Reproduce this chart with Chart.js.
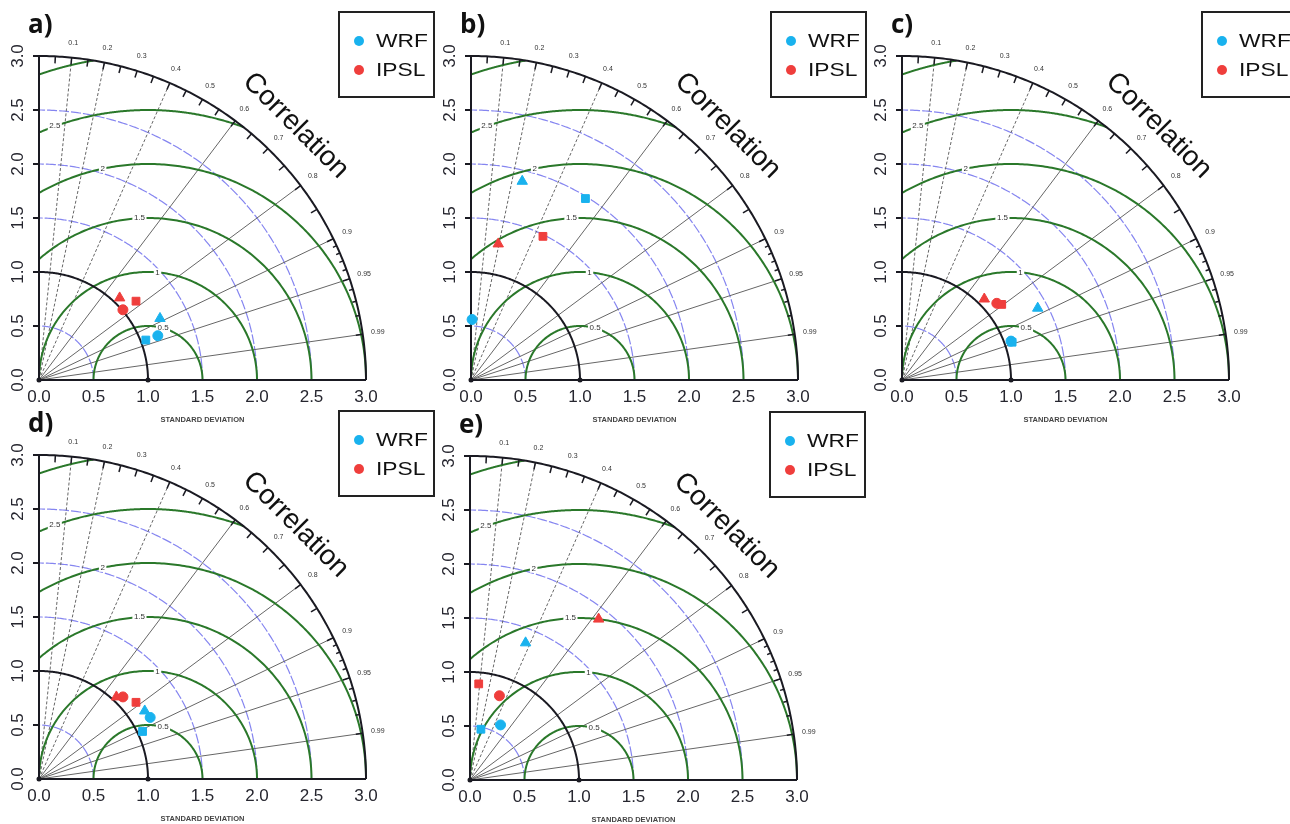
<!DOCTYPE html>
<html>
<head>
<meta charset="utf-8">
<title>Taylor diagrams WRF / IPSL</title>
<script src="https://cdn.jsdelivr.net/npm/chart.js@4.4.1/dist/chart.umd.min.js"></script>
<style>
  html, body { margin: 0; padding: 0; background: #fff; }
  body { width: 1290px; height: 824px; overflow: hidden; position: relative; }
  canvas { position: absolute; }
</style>
</head>
<body>
<canvas id="pa" width="440" height="430" style="left:0px;top:0px"></canvas>
<canvas id="pb" width="440" height="430" style="left:432px;top:0px"></canvas>
<canvas id="pc" width="440" height="430" style="left:863px;top:0px"></canvas>
<canvas id="pd" width="440" height="430" style="left:0px;top:399px"></canvas>
<canvas id="pe" width="440" height="430" style="left:431px;top:400px"></canvas>
<script>
// --- data ---
const panelNames = ["a)", "b)", "c)", "d)", "e)"];
// order of points in every series: circle, square, triangle
const markerShapes = ["circle", "rect", "triangle"];
const markerSizes = [5, 5.5, 6];

// [std * corr, std * sin(acos(corr))]
const wrfA  = [[1.09, 0.41], [0.98, 0.37], [1.11, 0.57]];
const ipslA = [[0.77, 0.65], [0.89, 0.73], [0.74, 0.76]];
const wrfB  = [[0.01, 0.56], [1.05, 1.68], [0.47, 1.84]];
const ipslB = [[-0.08, 0.82], [0.66, 1.33], [0.25, 1.26]];
const wrfC  = [[1.00, 0.36], [1.01, 0.35], [1.245, 0.665]];
const ipslC = [[0.87, 0.71], [0.915, 0.70], [0.755, 0.75]];
const wrfD  = [[1.02, 0.57], [0.95, 0.44], [0.97, 0.63]];
const ipslD = [[0.77, 0.76], [0.89, 0.71], [0.71, 0.76]];
const wrfE  = [[0.28, 0.51], [0.10, 0.47], [0.51, 1.27]];
const ipslE = [[0.27, 0.78], [0.08, 0.89], [1.18, 1.49]];

const stdTicks = [0, 0.5, 1, 1.5, 2, 2.5, 3];
const corrTicks = [0.1, 0.2, 0.3, 0.4, 0.5, 0.6, 0.7, 0.8, 0.9, 0.95, 0.99];
const corrLines = [0.1, 0.2, 0.4, 0.6, 0.8, 0.9, 0.95, 0.99];
const rmsArcs = [0.5, 1, 1.5, 2, 2.5, 3];
const rmsLabels = ["0.5", "1", "1.5", "2", "2.5"];
const stdArcs = [0.5, 1.5, 2, 2.5];

const WRF_COL = "#19b2ee";
const IPSL_COL = "#ef3e3c";
const FONT = "'Liberation Sans', Arial, sans-serif";

// angle (deg, seen from the reference point) where each RMS label sits
const rmsLabelAngle = [74, 85, 93, 102, 110];

const taylorPlugin = {
    id: "taylor",
    beforeDatasetsDraw(chart) {
        const ctx = chart.ctx;
        const xs = chart.scales.x, ys = chart.scales.y;
        const P = (u, v) => [xs.getPixelForValue(u), ys.getPixelForValue(v)];
        const line = pts => {
            ctx.beginPath();
            pts.forEach((p, i) => {
                const q = P(p[0], p[1]);
                if (i) ctx.lineTo(q[0], q[1]); else ctx.moveTo(q[0], q[1]);
            });
            ctx.stroke();
        };
        const arcPts = (cx, r, t0, t1) => {
            const pts = [];
            for (let i = 0; i <= 200; i++) {
                const t = t0 + (t1 - t0) * i / 200;
                pts.push([cx + r * Math.cos(t), r * Math.sin(t)]);
            }
            return pts;
        };

        ctx.save();
        ctx.lineCap = "butt";

        // std deviation arcs (blue, dashed)
        ctx.strokeStyle = "#8585f0";
        ctx.lineWidth = 1.2;
        ctx.setLineDash([10, 2]);
        stdArcs.forEach(r => line(arcPts(0, r, 0, Math.PI / 2)));

        // correlation rays
        ctx.strokeStyle = "#666";
        ctx.lineWidth = 1;
        corrLines.forEach(c => {
            ctx.setLineDash(c <= 0.4 ? [3, 2] : []);
            line([[0, 0], [3 * c, 3 * Math.sqrt(1 - c * c)]]);
        });
        ctx.setLineDash([]);

        // centred RMS arcs (green)
        ctx.strokeStyle = "#2a782a";
        ctx.lineWidth = 2;
        rmsArcs.forEach(r => {
            const t0 = r <= 2 ? 0 : Math.acos(((10 - r * r) / 2 - 1) / r);
            const t1 = r <= 1 ? Math.PI : Math.acos(-1 / r);
            line(arcPts(1, r, t0, t1));
        });

        // RMS labels
        ctx.font = "8px " + FONT;
        ctx.textAlign = "center";
        ctx.textBaseline = "middle";
        rmsLabels.forEach((lab, i) => {
            const r = rmsArcs[i];
            const t = rmsLabelAngle[i] * Math.PI / 180;
            const q = P(1 + r * Math.cos(t), r * Math.sin(t));
            const w = ctx.measureText(lab).width + 3;
            ctx.fillStyle = "#fff";
            ctx.fillRect(q[0] - w / 2, q[1] - 4, w, 8);
            ctx.fillStyle = "#333";
            ctx.fillText(lab, q[0], q[1]);
        });

        // reference arc and outer arc
        ctx.strokeStyle = "#1a1a22";
        ctx.lineWidth = 2;
        line(arcPts(0, 1, 0, Math.PI / 2));
        line(arcPts(0, 3, 0, Math.PI / 2));

        // axes
        line([[0, 3], [0, 0], [3, 0]]);
        stdTicks.forEach(v => {
            if (v === 0) return;
            const q = P(0, v);
            ctx.beginPath();
            ctx.moveTo(q[0], q[1]);
            ctx.lineTo(q[0] - 6, q[1]);
            ctx.stroke();
        });
        ctx.fillStyle = "#1a1a22";
        [0, 1].forEach(v => {
            const q = P(v, 0);
            ctx.beginPath();
            ctx.arc(q[0], q[1], 2.5, 0, Math.PI * 2);
            ctx.fill();
        });

        // ticks on the correlation arc
        const o = P(0, 0);
        const tickAt = (c, len) => {
            const q = P(3 * c, 3 * Math.sqrt(1 - c * c));
            const dx = q[0] - o[0], dy = q[1] - o[1];
            const d = Math.hypot(dx, dy);
            ctx.beginPath();
            ctx.moveTo(q[0], q[1]);
            ctx.lineTo(q[0] - dx / d * len, q[1] - dy / d * len);
            ctx.stroke();
        };
        ctx.lineWidth = 1.5;
        for (let k = 1; k <= 18; k++) tickAt(k * 0.05, 7);
        for (let k = 91; k <= 99; k++) tickAt(k / 100, k === 95 || k === 99 ? 7 : 4);

        // correlation labels
        ctx.fillStyle = "#333";
        ctx.font = "7px " + FONT;
        corrTicks.forEach(c => {
            const q = P(3.14 * c, 3.14 * Math.sqrt(1 - c * c));
            ctx.fillText(String(c), q[0], q[1]);
        });
        ctx.restore();
    },
    afterDraw(chart, args, opts) {
        const ctx = chart.ctx;
        const area = chart.chartArea;
        const xs = chart.scales.x, ys = chart.scales.y;
        ctx.save();

        // std deviation tick labels
        ctx.fillStyle = "#26262f";
        ctx.font = "17px " + FONT;
        ctx.textAlign = "center";
        ctx.textBaseline = "middle";
        stdTicks.forEach(v => {
            ctx.fillText(v.toFixed(1), xs.getPixelForValue(v), area.bottom + 17);
        });
        stdTicks.forEach(v => {
            ctx.save();
            ctx.translate(area.left - 21, ys.getPixelForValue(v));
            ctx.rotate(-Math.PI / 2);
            ctx.fillText(v.toFixed(1), 0, 0);
            ctx.restore();
        });

        ctx.font = "bold 7.5px " + FONT;
        ctx.fillStyle = "#444";
        ctx.fillText("STANDARD DEVIATION", xs.getPixelForValue(1.5), area.bottom + 40);

        // "Correlation" along the outer arc
        const ang = Math.PI / 4;
        ctx.save();
        ctx.translate(xs.getPixelForValue(3.33 * Math.cos(ang)), ys.getPixelForValue(3.33 * Math.sin(ang)));
        ctx.rotate(ang);
        ctx.font = "28px " + FONT;
        ctx.fillStyle = "#111";
        ctx.fillText("Correlation", 0, 0);
        ctx.restore();

        // panel letter
        ctx.font = "bold 26px 'Open Sans', " + FONT;
        ctx.fillStyle = "#111";
        ctx.textAlign = "left";
        ctx.textBaseline = "alphabetic";
        ctx.fillText(opts.name, area.left - 11, 33);

        // legend box
        const bx = 339, by = 12, bw = 95, bh = 85;
        ctx.strokeStyle = "#222";
        ctx.lineWidth = 2;
        ctx.strokeRect(bx, by, bw, bh);
        chart.data.datasets.forEach((ds, i) => {
            const cy = by + 29 + i * 29;
            ctx.fillStyle = ds.backgroundColor;
            ctx.beginPath();
            ctx.arc(bx + 20, cy, 5, 0, Math.PI * 2);
            ctx.fill();
            ctx.save();
            ctx.translate(bx + 37, cy);
            ctx.scale(1.2, 1);
            ctx.font = "19px " + FONT;
            ctx.fillStyle = "#111";
            ctx.textAlign = "left";
            ctx.textBaseline = "middle";
            ctx.fillText(ds.label, 0, 1);
            ctx.restore();
        });
        ctx.restore();
    }
};

function series(label, pts, color) {
    return {
        label: label,
        data: pts.map(p => ({ x: p[0], y: p[1] })),
        pointStyle: markerShapes,
        pointRadius: markerSizes,
        pointHoverRadius: markerSizes,
        backgroundColor: color,
        borderColor: color,
        borderWidth: 1,
        showLine: false,
        clip: false
    };
}

function makeChart(id, name, wrf, ipsl) {
    return new Chart(document.getElementById(id), {
        type: "scatter",
        data: { datasets: [series("WRF", wrf, WRF_COL), series("IPSL", ipsl, IPSL_COL)] },
        options: {
            responsive: false,
            animation: false,
            layout: { padding: { left: 39, top: 56, right: 74, bottom: 50 } },
            scales: {
                x: { type: "linear", min: 0, max: 3, display: false },
                y: { type: "linear", min: 0, max: 3, display: false }
            },
            plugins: {
                legend: { display: false },
                tooltip: { enabled: false },
                taylor: { name: name }
            }
        },
        plugins: [taylorPlugin]
    });
}

makeChart("pa", panelNames[0], wrfA, ipslA);
makeChart("pb", panelNames[1], wrfB, ipslB);
makeChart("pc", panelNames[2], wrfC, ipslC);
makeChart("pd", panelNames[3], wrfD, ipslD);
makeChart("pe", panelNames[4], wrfE, ipslE);
</script>
</body>
</html>
